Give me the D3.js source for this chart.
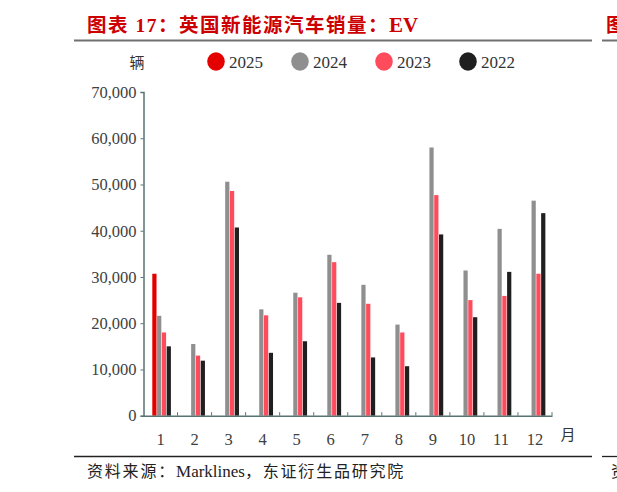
<!DOCTYPE html>
<html>
<head>
<meta charset="utf-8">
<script src="https://cdn.jsdelivr.net/npm/d3@7"></script>
<style>
  body { margin: 0; background: #fff; }
  text { font-family: "Liberation Serif", "Noto Sans CJK SC", serif; }
</style>
</head>
<body>
<script>
const width = 617;
const height = 492;

// 数据：英国EV月度销量（辆）
const months = ['1', '2', '3', '4', '5', '6', '7', '8', '9', '10', '11', '12'];
const years = ['2025', '2024', '2023', '2022'];
const ev2025 = [30700];
const ev2024 = [21600, 15500, 50600, 23000, 26600, 34800, 28300, 19700, 58000, 31400, 40400, 46500];
const ev2023 = [18000, 13000, 48600, 21700, 25600, 33200, 24200, 18000, 47700, 25000, 25900, 30700];
const ev2022 = [15000, 11900, 40700, 13600, 16100, 24400, 12600, 10700, 39200, 21300, 31100, 43800];
const yTicks = [0, 10000, 20000, 30000, 40000, 50000, 60000, 70000];

const colors = { '2025': '#e50000', '2024': '#8f8f8f', '2023': '#ff4b5b', '2022': '#1f1f1f' };
const series = { '2025': ev2025, '2024': ev2024, '2023': ev2023, '2022': ev2022 };

const svg = d3.select('body')
  .append('svg')
  .attr('width', width)
  .attr('height', height);

// 标题
const title = svg.append('text')
  .attr('x', 87)
  .attr('y', 31.5)
  .attr('fill', '#cc0000')
  .attr('font-size', 19.5)
  .attr('font-weight', 'bold');
title.append('tspan').attr('letter-spacing', 1.5).text('图表 17：英国新能源汽车销量：');
title.append('tspan').attr('font-size', 21).text('EV');

// 右侧露出的下一张图
svg.append('text')
  .attr('x', 606)
  .attr('y', 31.5)
  .attr('fill', '#cc0000')
  .attr('font-size', 19.5)
  .attr('font-weight', 'bold')
  .text('图');

svg.append('line')
  .attr('x1', 74).attr('x2', 592)
  .attr('y1', 40.5).attr('y2', 40.5)
  .attr('stroke', '#707070').attr('stroke-width', 2);
svg.append('line')
  .attr('x1', 602).attr('x2', 617)
  .attr('y1', 40.5).attr('y2', 40.5)
  .attr('stroke', '#707070').attr('stroke-width', 2);

// 单位
svg.append('text')
  .attr('x', 137).attr('y', 67.5)
  .attr('text-anchor', 'middle')
  .attr('font-size', 15)
  .attr('fill', '#333')
  .text('辆');

// 图例
const legendX = d3.scalePoint().domain(years).range([216, 468]);
const legend = svg.selectAll('.legend')
  .data(years)
  .enter()
  .append('g')
  .attr('class', 'legend')
  .attr('transform', d => `translate(${legendX(d)}, 61.5)`);
legend.append('ellipse')
  .attr('rx', 8.8).attr('ry', 9.2)
  .attr('fill', d => colors[d]);
legend.append('text')
  .attr('x', 13).attr('y', 6)
  .attr('font-size', 17)
  .attr('fill', '#333')
  .text(d => d);

// 比例尺
const x0 = d3.scaleBand()
  .domain(months)
  .range([143.5, 552])
  .padding(0);

const x1 = d3.scaleBand()
  .domain(years)
  .range([8.8, 27.4])
  .paddingInner(0.12);

const y = d3.scaleLinear()
  .domain([0, 70000])
  .range([415.7, 92]);

// 柱子
const bars = [];
years.forEach(yr => {
  series[yr].forEach((v, i) => bars.push({ month: months[i], year: yr, value: v }));
});

svg.append('g')
  .selectAll('rect')
  .data(bars)
  .enter()
  .append('rect')
  .attr('x', d => x0(d.month) + x1(d.year))
  .attr('y', d => y(d.value))
  .attr('width', x1.bandwidth())
  .attr('height', d => y(0) - y(d.value))
  .attr('fill', d => colors[d.year]);

// y轴
const axisColor = '#587373';
const yAxis = svg.append('g')
  .attr('transform', 'translate(143.5, 0)')
  .call(d3.axisLeft(y).tickValues(yTicks).tickSize(3).tickPadding(4).tickFormat(d3.format(',')));
yAxis.select('.domain').attr('stroke', axisColor).attr('stroke-width', 1.5);
yAxis.selectAll('.tick line').attr('stroke', axisColor);
yAxis.selectAll('text')
  .attr('font-family', '"Liberation Serif", serif')
  .attr('font-size', 16.5)
  .attr('fill', '#404040');

// x轴
const xAxis = svg.append('g')
  .attr('transform', `translate(0, ${y(0)})`)
  .call(d3.axisBottom(x0).tickSize(0).tickPadding(18));
xAxis.select('.domain').attr('stroke', axisColor).attr('stroke-width', 1.5);
xAxis.selectAll('text')
  .attr('font-family', '"Liberation Serif", serif')
  .attr('font-size', 16.5)
  .attr('fill', '#404040');
xAxis.selectAll('.boundary')
  .data(months)
  .enter()
  .append('line')
  .attr('class', 'boundary')
  .attr('x1', d => x0(d) + x0.bandwidth())
  .attr('x2', d => x0(d) + x0.bandwidth())
  .attr('y1', 0).attr('y2', -3.5)
  .attr('stroke', axisColor);

svg.append('text')
  .attr('x', 568).attr('y', 440)
  .attr('text-anchor', 'middle')
  .attr('font-size', 15)
  .attr('fill', '#333')
  .text('月');

// 底部
svg.append('line')
  .attr('x1', 74).attr('x2', 592)
  .attr('y1', 456.5).attr('y2', 456.5)
  .attr('stroke', '#222').attr('stroke-width', 1.3);
svg.append('line')
  .attr('x1', 602).attr('x2', 617)
  .attr('y1', 456.5).attr('y2', 456.5)
  .attr('stroke', '#222').attr('stroke-width', 1.3);

const source = svg.append('text')
  .attr('x', 87).attr('y', 477)
  .attr('font-size', 16)
  .attr('fill', '#222');
source.append('tspan').attr('letter-spacing', 1.8).text('资料来源：');
source.append('tspan').attr('font-size', 17).text('Marklines');
source.append('tspan').attr('letter-spacing', 1.8).text('，东证衍生品研究院');

svg.append('text')
  .attr('x', 611).attr('y', 477)
  .attr('font-size', 16)
  .attr('fill', '#222')
  .text('资');
</script>
</body>
</html>
